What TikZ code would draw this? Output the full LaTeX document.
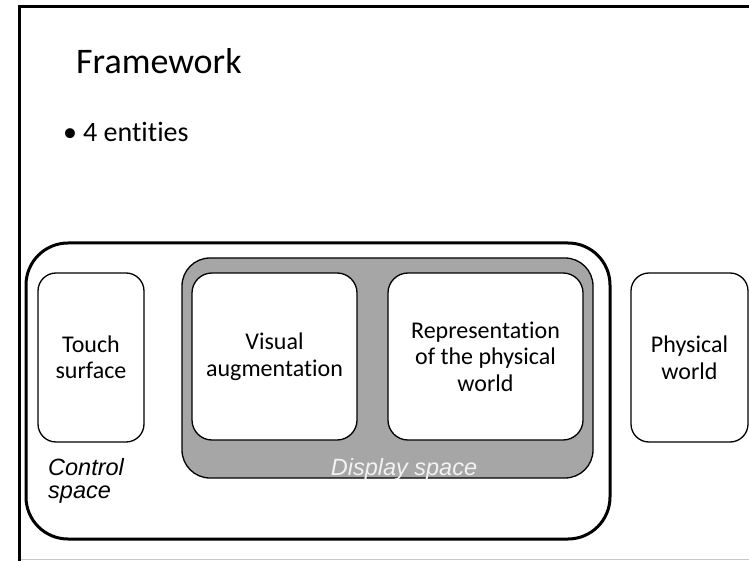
\documentclass[tikz,border=0pt]{standalone}
\usepackage{fontspec}
\setmainfont{Carlito}[Ligatures=NoCommon]
\newfontfamily\labelfont{Liberation Sans}
\definecolor{panelgray}{HTML}{A6A6A6}
\definecolor{rulegray}{HTML}{C8C8C8}
\definecolor{labelwhite}{HTML}{F2F2F2}
\begin{document}
\begin{tikzpicture}[x=1pt,y=-1pt,
  entity/.style={draw=black, line width=1.3pt, fill=white, rounded corners=20pt,
    align=center, inner sep=0pt, outer sep=0pt,
    font=\fontsize{24}{26.5}\selectfont},
  spacebox/.style={inner sep=0pt, outer sep=0pt},
  spacelabel/.style={inner sep=0pt, align=left,
    font=\labelfont\itshape\fontsize{23.5}{23}\selectfont}]
\useasboundingbox (0,0) rectangle (749,561);
% slide frame
\draw[rulegray, line width=1.5pt] (19,559.5) -- (749,559.5);
\draw[black, line width=3pt] (19,561) -- (19,7) -- (749,7);
% heading and bullet
\node[anchor=base west, inner sep=0pt, font=\fontsize{36}{40}\selectfont] (title) at (76,74) {Framework};
\node[anchor=base west, inner sep=0pt, font=\fontsize{28}{32}\selectfont] (bullet) at (63,142) {•\hspace{6pt}4 entities};
% control space
\node[spacebox, draw=black, line width=3pt, rounded corners=42pt,
  minimum width=584pt, minimum height=296pt] (control) at (318,391) {};
% display space
\node[spacebox, draw=black, line width=1.3pt, fill=panelgray, rounded corners=28pt,
  minimum width=411pt, minimum height=220pt] (display) at (387.5,368) {};
% entities
\node[entity, minimum width=106pt, minimum height=169pt, rounded corners=18pt] (touch) at (91,357.5) {Touch\\surface};
\node[entity, minimum width=165pt, minimum height=167pt] (visual) at (274.5,356.5) {Visual\\augmentation};
\node[entity, minimum width=195pt, minimum height=167pt] (repr) at (485.5,356.5) {Representation\\of the physical\\world};
\node[entity, minimum width=117pt, minimum height=169pt, rounded corners=18pt] (phys) at (689.5,357.5) {Physical\\world};
% space labels
\node[spacelabel, anchor=base west] (controllabel) at (48,498) {Control\\space};
\node[spacelabel, anchor=base, text=labelwhite] (displaylabel) at (404,475) {Display space};
\end{tikzpicture}
\end{document}
